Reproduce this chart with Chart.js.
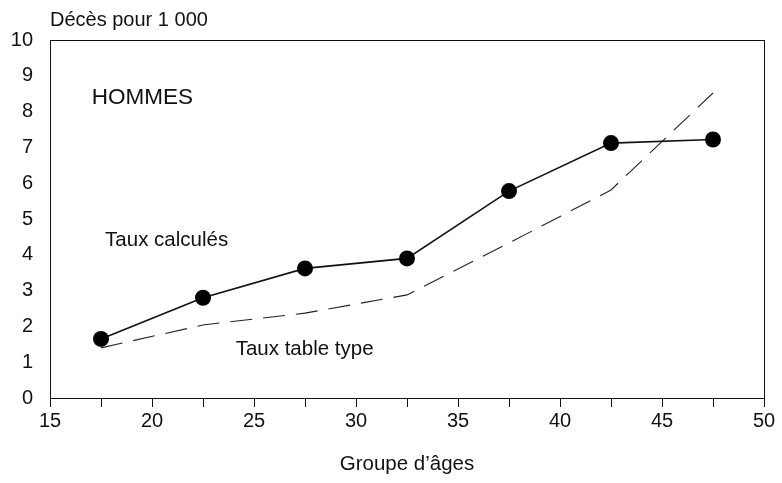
<!DOCTYPE html>
<html lang="fr">
<head>
    <meta charset="UTF-8">
    <title>Taux de décès - Hommes</title>
    <script src="https://cdn.jsdelivr.net/npm/chart.js"></script>
    <style>
        html, body { margin: 0; padding: 0; background: #fff; }
        #box { width: 782px; height: 483px; }
    </style>
</head>
<body>
    <div id="box">
        <canvas id="grafico"></canvas>
    </div>

    <script>
        // données
        const ages = [17.5, 22.5, 27.5, 32.5, 37.5, 42.5, 47.5];
        const tauxCalcules = [1.65, 2.8, 3.62, 3.9, 5.78, 7.12, 7.22];
        const tauxTableType = [1.4, 2.04, 2.37, 2.88, 4.33, 5.81, 8.52];
        const ticksY = [0, 1, 2, 3, 4, 5, 6, 7, 8, 9, 10];

        // textes posés dans le graphique (x, y en unités des axes)
        const textes = [
            { t: 'HOMMES', x: 17.05, y: 8.39, size: 22.5 },
            { t: 'Taux calculés', x: 17.7, y: 4.4, size: 20.5 },
            { t: 'Taux table type', x: 24.1, y: 1.35, size: 20.5 }
        ];

        const police = '"Liberation Sans", Arial, sans-serif';

        const decor = {
            id: 'decor',
            afterDraw(chart) {
                const c = chart.ctx;
                const a = chart.chartArea;
                const sx = chart.scales.x, sy = chart.scales.y;
                c.save();
                // cadre
                c.strokeStyle = '#111';
                c.lineWidth = 1;
                c.strokeRect(a.left + 0.5, a.top + 0.5, a.right - a.left, a.bottom - a.top);
                // textes
                c.fillStyle = '#111';
                c.textBaseline = 'middle';
                c.textAlign = 'left';
                c.font = '20px ' + police;
                c.fillText('Décès pour 1 000', a.left, 20);
                textes.forEach(o => {
                    c.font = o.size + 'px ' + police;
                    c.fillText(o.t, sx.getPixelForValue(o.x), sy.getPixelForValue(o.y));
                });
                c.restore();
            }
        };

        new Chart(document.getElementById('grafico'), {
            type: 'line',
            data: {
                datasets: [{
                    label: 'Taux calculés',
                    data: ages.map((a, i) => ({ x: a, y: tauxCalcules[i] })),
                    borderColor: '#111',
                    backgroundColor: '#111',
                    borderWidth: 1.6,
                    pointRadius: 8,
                    pointBackgroundColor: '#000',
                    pointBorderWidth: 0,
                    tension: 0
                }, {
                    label: 'Taux table type',
                    data: ages.map((a, i) => ({ x: a, y: tauxTableType[i] })),
                    borderColor: '#222',
                    borderWidth: 1.1,
                    borderDash: [22, 11],
                    pointRadius: 0,
                    tension: 0
                }]
            },
            options: {
                responsive: true,
                maintainAspectRatio: false,
                animation: false,
                layout: { padding: { top: 40, right: 18, left: 0, bottom: 0 } },
                plugins: {
                    legend: { display: false },
                    tooltip: { enabled: false }
                },
                scales: {
                    x: {
                        type: 'linear',
                        min: 15,
                        max: 50,
                        afterFit: s => { s.height = 85; },
                        afterBuildTicks: s => {
                            s.ticks = [];
                            for (let v = 15; v <= 50; v += 2.5) s.ticks.push({ value: v });
                        },
                        ticks: {
                            color: '#111',
                            font: { family: police, size: 20 },
                            padding: 2,
                            maxRotation: 0,
                            autoSkip: false,
                            callback: v => (v % 5 === 0 ? String(v) : '')
                        },
                        grid: {
                            drawOnChartArea: false,
                            drawTicks: true,
                            tickLength: 9,
                            color: '#111'
                        },
                        border: { display: true, color: '#111', width: 1 },
                        title: {
                            display: true,
                            text: 'Groupe d\u2019âges',
                            color: '#111',
                            font: { family: police, size: 20.5 },
                            padding: { top: 0, bottom: 6 }
                        }
                    },
                    y: {
                        min: 0,
                        max: 10,
                        afterFit: s => { s.width = 50; },
                        afterBuildTicks: s => {
                            s.ticks = ticksY.map(v => ({ value: v }));
                        },
                        ticks: {
                            color: '#111',
                            font: { family: police, size: 20 },
                            padding: 17
                        },
                        grid: {
                            drawOnChartArea: false,
                            drawTicks: false
                        },
                        border: { display: true, color: '#111', width: 1 }
                    }
                }
            },
            plugins: [decor]
        });
    </script>
</body>
</html>
